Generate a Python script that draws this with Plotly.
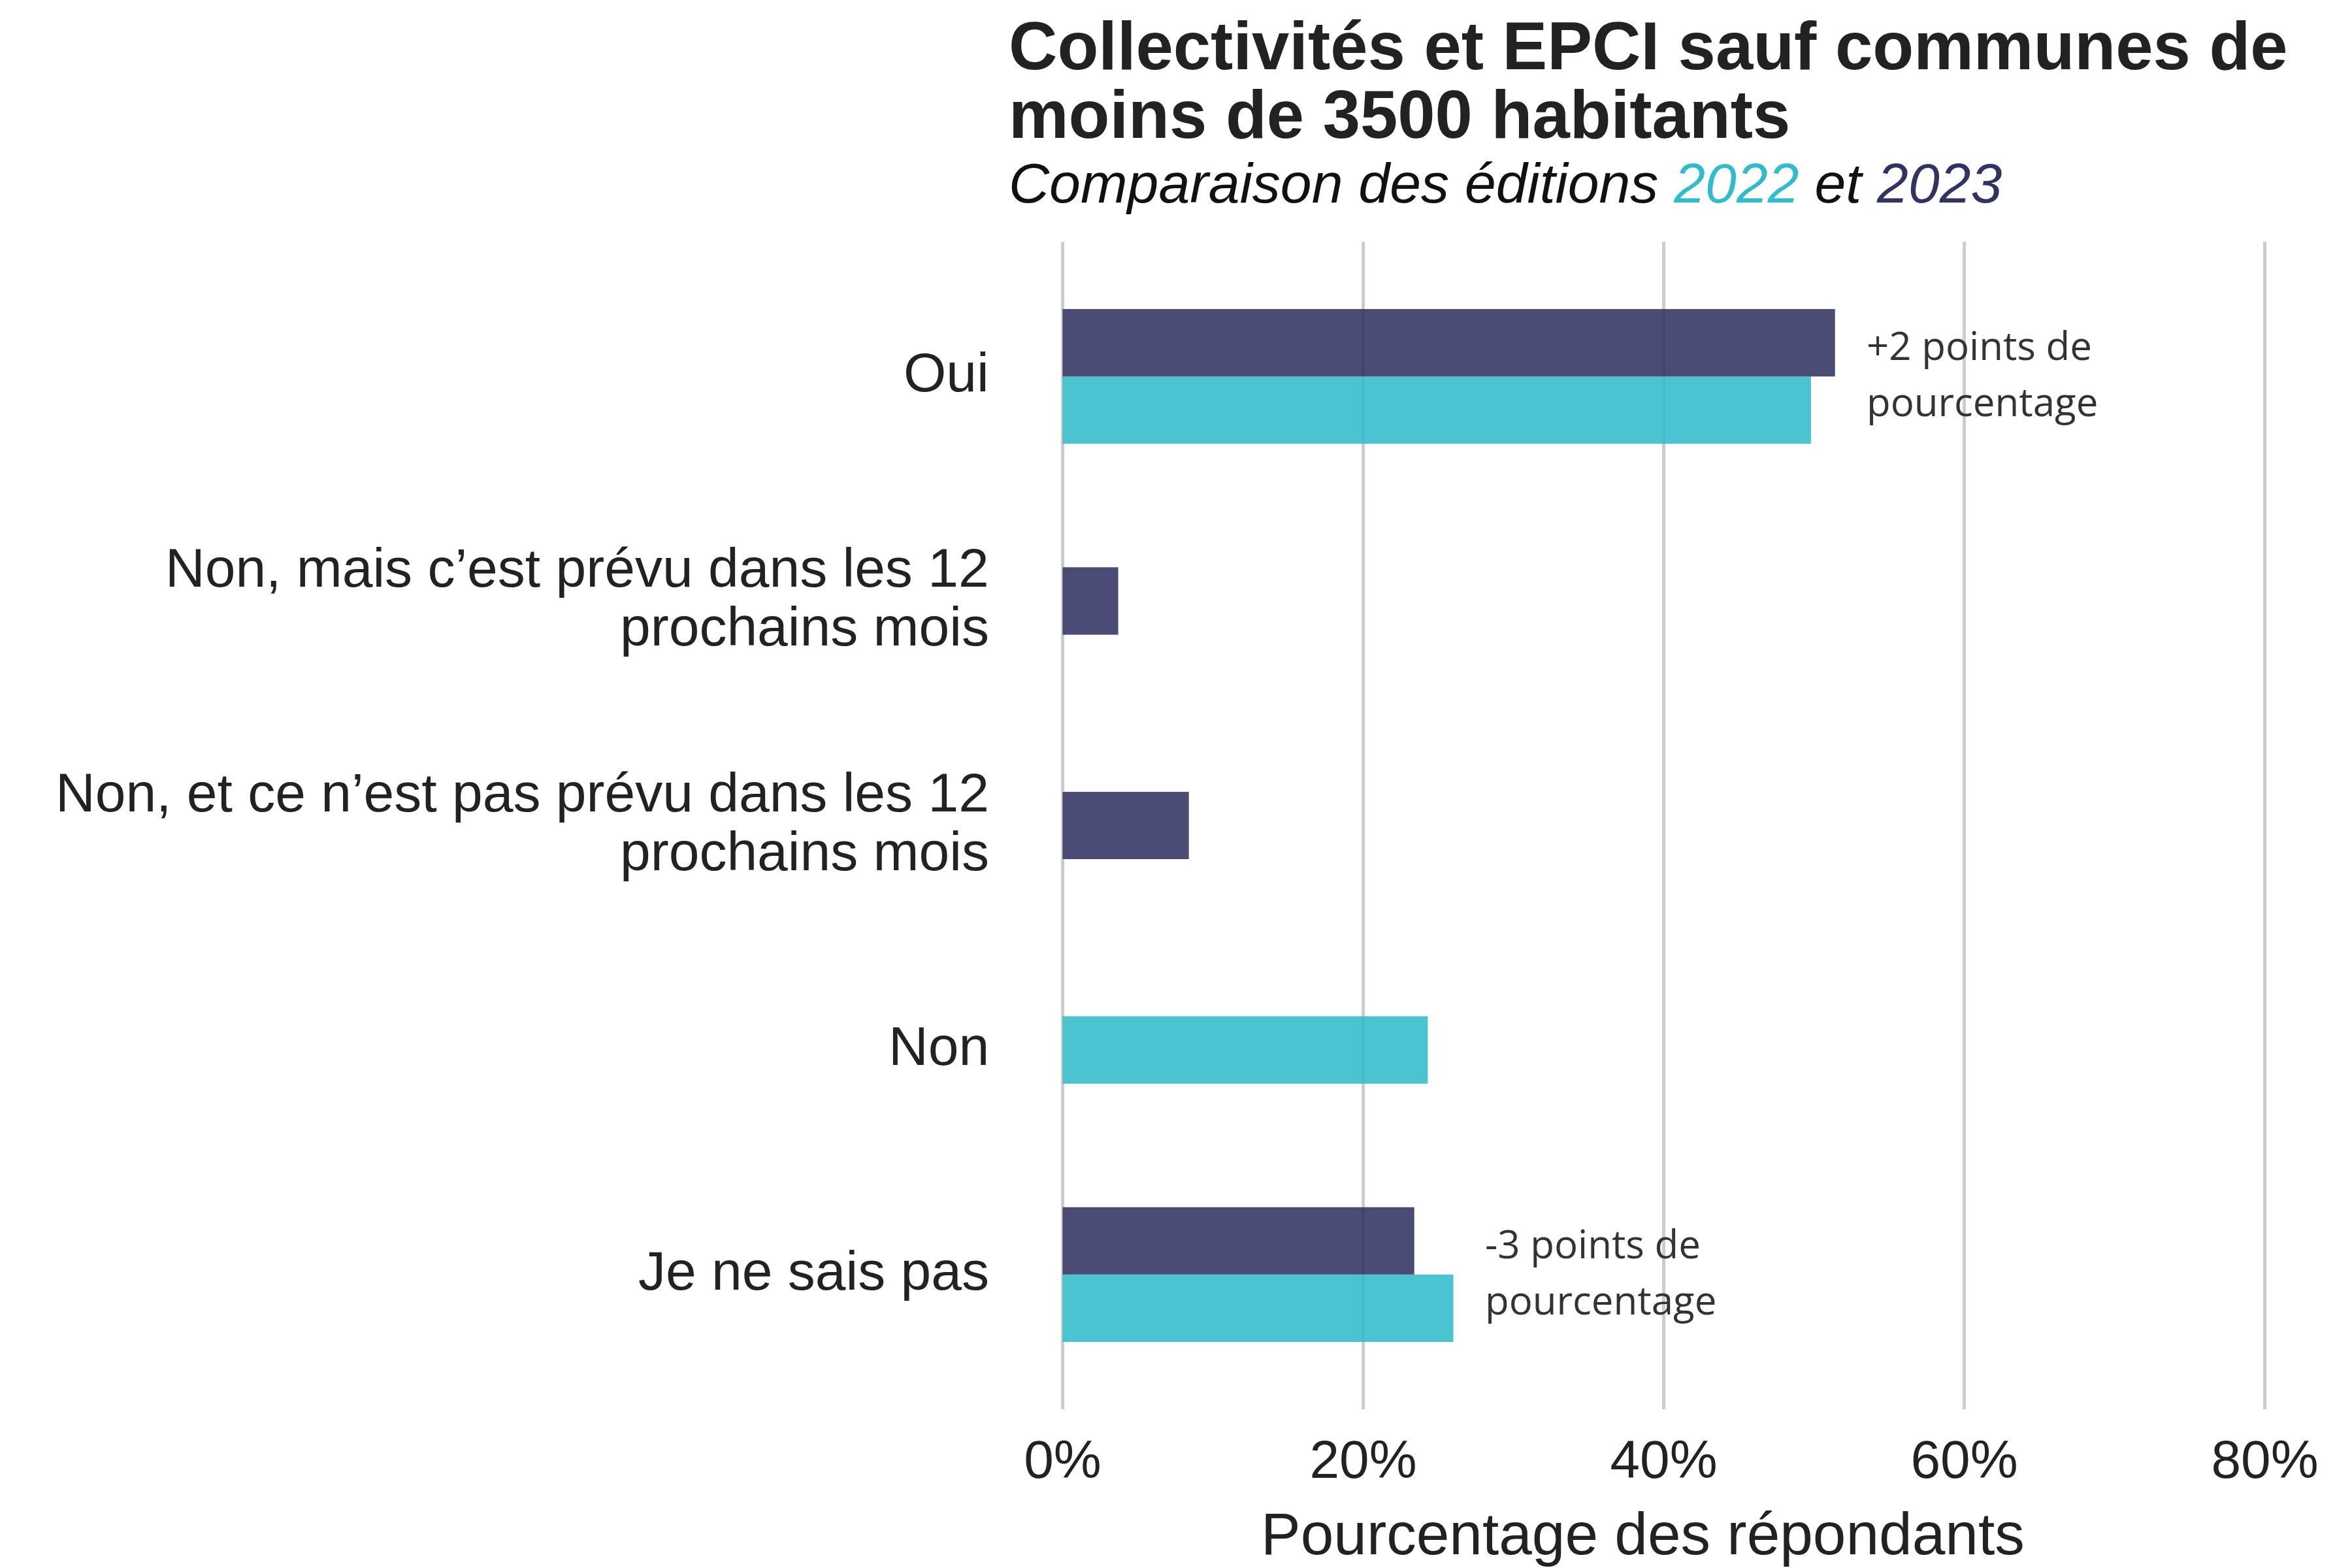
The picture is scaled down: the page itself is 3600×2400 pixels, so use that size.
import plotly.graph_objects as go

# ---- data ----
categories = [
    "Oui",
    "Non, mais c’est prévu dans les 12 prochains mois",
    "Non, et ce n’est pas prévu dans les 12 prochains mois",
    "Non",
    "Je ne sais pas",
]
tick_labels = [
    "Oui",
    "Non, mais c’est prévu dans les 12\nprochains mois",
    "Non, et ce n’est pas prévu dans les 12\nprochains mois",
    "Non",
    "Je ne sais pas",
]
values_2022 = [49.8, None, None, 24.3, 26.0]
values_2023 = [51.4, 3.7, 8.4, None, 23.4]
x_tick_values = [0, 20, 40, 60, 80]
x_tick_labels = ["0%", "20%", "40%", "60%", "80%"]

# ---- style ----
COL_2022 = "rgba(51,187,201,0.88)"
COL_2023 = "rgba(49,51,99,0.88)"
TXT_2022 = "#33BBC9"
TXT_2023 = "#313361"
TEXT = "#222222"
FONT = "Liberation Sans"
BW = 0.3

W, H = 3600, 2400
L, R, T, B = 1606.5, 129.5, 361.75, 250.75
PW, PH = W - L - R, H - T - B


def py(px):
    return (H - B - px) / PH


def pxx(px):
    return (px - L) / PW


# offsets: paired bars split around the category, single bars centred
off_2022, off_2023 = [], []
for a, b in zip(values_2022, values_2023):
    both = a is not None and b is not None
    off_2022.append(0 if both else -BW / 2)
    off_2023.append(-BW if both else -BW / 2)

fig = go.Figure()
fig.add_trace(go.Bar(
    y=categories, x=values_2022, orientation="h", name="2022",
    width=BW, offset=off_2022, marker=dict(color=COL_2022, line=dict(width=0)),
))
fig.add_trace(go.Bar(
    y=categories, x=values_2023, orientation="h", name="2023",
    width=BW, offset=off_2023, marker=dict(color=COL_2023, line=dict(width=0)),
))

annotations = []

# category labels (left of the axis), tight line spacing
for cat, lab in zip(categories, tick_labels):
    lines = lab.split("\n")
    n = len(lines)
    for k, line in enumerate(lines):
        annotations.append(dict(
            x=pxx(1507), y=cat, xref="paper", yref="y", text=line,
            showarrow=False, xanchor="right", yanchor="middle",
            yshift=6 + 45 * (n - 1) - 90 * k,
            font=dict(family=FONT, size=84, color=TEXT),
        ))

# difference labels
for cat, a, b in zip(categories, values_2022, values_2023):
    if a is None or b is None:
        continue
    d = round(b - a)
    label = f"{'+' if d > 0 else ''}{d} points de"
    xpos = max(a, b) + 2
    for txt, shift in ((label, 48), ("pourcentage", -38)):
        annotations.append(dict(
            x=xpos, y=cat, xref="x", yref="y", text=txt, showarrow=False,
            xanchor="left", yanchor="middle", yshift=shift,
            font=dict(family="Open Sans", size=60, color="#333333"),
        ))

# title lines
annotations.append(dict(
    x=pxx(1533), y=py(62), xref="paper", yref="paper", showarrow=False,
    xanchor="left", yanchor="middle",
    text="<b>Collectivités et EPCI sauf communes de</b>",
    font=dict(family=FONT, size=103, color=TEXT),
))
annotations.append(dict(
    x=pxx(1533), y=py(212 - 45), xref="paper", yref="paper", showarrow=False,
    xanchor="left", yanchor="middle",
    text="<b>moins de 3500 habitants</b>",
    font=dict(family=FONT, size=103, color=TEXT),
))
annotations.append(dict(
    x=pxx(1533), y=py(310 - 38), xref="paper", yref="paper", showarrow=False,
    xanchor="left", yanchor="middle",
    text=(f"<i>Comparaison des éditions <span style='color:{TXT_2022}'>2022</span>"
          f" et <span style='color:{TXT_2023}'>2023</span></i>"),
    font=dict(family=FONT, size=86, color="#111111"),
))
# x axis title
annotations.append(dict(
    x=pxx(2506), y=py(2380 - 40), xref="paper", yref="paper", showarrow=False,
    xanchor="center", yanchor="middle",
    text="Pourcentage des répondants",
    font=dict(family=FONT, size=91, color=TEXT),
))

fig.update_layout(
    width=W, height=H,
    margin=dict(l=L, r=R, t=T, b=B, pad=0),
    paper_bgcolor="white", plot_bgcolor="white",
    barmode="overlay", showlegend=False,
    annotations=annotations,
    font=dict(family=FONT, color=TEXT),
    xaxis=dict(
        range=[-0.5, 80.5], tickmode="array", tickvals=x_tick_values,
        ticktext=x_tick_labels, showgrid=True, gridcolor="#cccccc", gridwidth=4.5,
        zeroline=False, showline=False, ticks="", ticklabelstandoff=22,
        tickfont=dict(family=FONT, size=82, color=TEXT),
    ),
    yaxis=dict(
        type="category", range=[4.6, -0.6], tickmode="array",
        tickvals=categories, showticklabels=False,
        showgrid=False, zeroline=False, showline=False, ticks="",
    ),
)

fig.write_html("out.html")
